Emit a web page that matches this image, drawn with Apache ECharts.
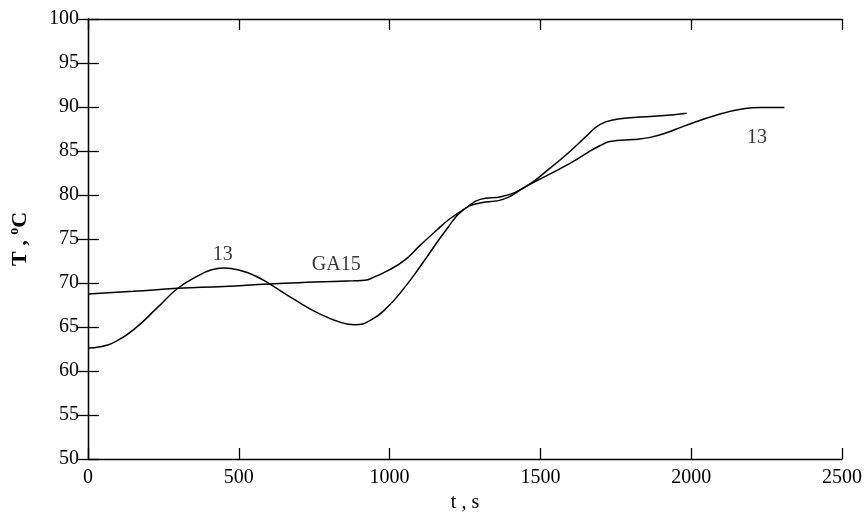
<!DOCTYPE html>
<html>
<head>
<meta charset="utf-8">
<script src="https://cdn.jsdelivr.net/npm/echarts@6/dist/echarts.min.js"></script>
<style>html,body{margin:0;padding:0;background:#fff}#c{width:864px;height:513px}</style>
</head>
<body>
<div id="c"></div>
<script>
// Curve 13
var t13 = [0, 40, 100, 165, 230, 298, 364, 410, 450, 508, 555, 602, 685, 773, 840, 884, 939, 994, 1050, 1102, 1189, 1244, 1300, 1376, 1454, 1598, 1697, 1753, 1808, 1864, 1920, 1974, 2085, 2173, 2229, 2309];
var T13 = [62.6, 62.75, 63.5, 65.1, 67.2, 69.4, 70.8, 71.5, 71.7, 71.4, 70.8, 69.9, 68.1, 66.4, 65.5, 65.26, 65.8, 67.3, 69.5, 71.9, 76.1, 78.3, 79.1, 79.5, 81.0, 83.6, 85.6, 86.2, 86.3, 86.55, 87.1, 87.8, 89.1, 89.8, 89.95, 89.95];
// Curve GA15
var tGA = [0, 150, 298, 450, 602, 750, 880, 917, 950, 994, 1050, 1102, 1156, 1200, 1244, 1300, 1376, 1454, 1530, 1598, 1650, 1697, 1753, 1808, 1900, 1985];
var TGA = [68.75, 69.05, 69.4, 69.6, 69.9, 70.1, 70.25, 70.3, 70.7, 71.4, 72.6, 74.3, 76.0, 77.3, 78.3, 79.5, 79.85, 81.0, 83.0, 84.95, 86.6, 88.0, 88.6, 88.8, 89.0, 89.3];
// Curve annotations (data coords)
var labelText = ['13', 'GA15', '13'];
var labelT = [447, 823, 2218];
var labelV = [73.2, 72.1, 86.5];
// Axis ticks
var xMin = 0, xMax = 2500, xStep = 500;
var yMin = 50, yMax = 100, yStep = 5;

function pairs(a, b) { return a.map(function (v, i) { return [v, b[i]]; }); }
var labelData = labelT.map(function (v, i) { return [v, labelV[i], labelText[i]]; });

var font = 'Liberation Serif';
var chart = echarts.init(document.getElementById('c'));
var axisBase = {
  axisLine: { show: true, lineStyle: { color: '#000', width: 1.3 } },
  axisTick: { show: true, inside: true, length: 11, lineStyle: { color: '#000', width: 1.3 } },
  splitLine: { show: false }
};
function plain(v) { return String(v); }
chart.setOption({
  animation: false,
  backgroundColor: '#fff',
  grid: { left: 88, right: 22, top: 19, bottom: 54, containLabel: false, outerBoundsMode: 'none' },
  xAxis: [
    Object.assign({
      type: 'value', min: xMin, max: xMax, interval: xStep, position: 'bottom',
      name: 't , s', nameLocation: 'middle', nameGap: 30,
      nameTextStyle: { fontFamily: font, fontSize: 20, color: '#000' },
      axisLabel: { fontFamily: font, fontSize: 20, color: '#000', margin: 9, formatter: plain }
    }, axisBase),
    Object.assign({
      type: 'value', min: xMin, max: xMax, interval: xStep, position: 'top',
      axisLabel: { show: false }
    }, axisBase)
  ],
  yAxis: [
    Object.assign({
      type: 'value', min: yMin, max: yMax, interval: yStep, position: 'left',
      name: '{a|T , }{s|o}{a|C}', nameLocation: 'middle', nameGap: 55, nameRotate: 90,
      nameTextStyle: {
        rich: {
          a: { fontFamily: font, fontSize: 22, fontWeight: 'bold', color: '#000', lineHeight: 26 },
          s: { fontFamily: font, fontSize: 14, fontWeight: 'bold', color: '#000', lineHeight: 26, verticalAlign: 'top' }
        }
      },
      axisLabel: { fontFamily: font, fontSize: 20, color: '#000', margin: 9, formatter: plain }
    }, axisBase),
    Object.assign({
      type: 'value', min: yMin, max: yMax, interval: yStep, position: 'right',
      axisLabel: { show: false }
    }, axisBase)
  ],
  series: [
    {
      name: '13', type: 'line', data: pairs(t13, T13), smooth: 0.5, showSymbol: false,
      lineStyle: { color: '#000', width: 1.5 }
    },
    {
      name: 'GA15', type: 'line', data: pairs(tGA, TGA), smooth: 0.5, showSymbol: false,
      lineStyle: { color: '#000', width: 1.5 }
    },
    {
      type: 'scatter', data: labelData, symbolSize: 0, silent: true,
      label: {
        show: true, position: 'inside', fontFamily: font, fontSize: 20, color: '#000',
        textBorderWidth: 0,
        formatter: function (p) { return p.data[2]; }
      }
    }
  ]
});
</script>
</body>
</html>
